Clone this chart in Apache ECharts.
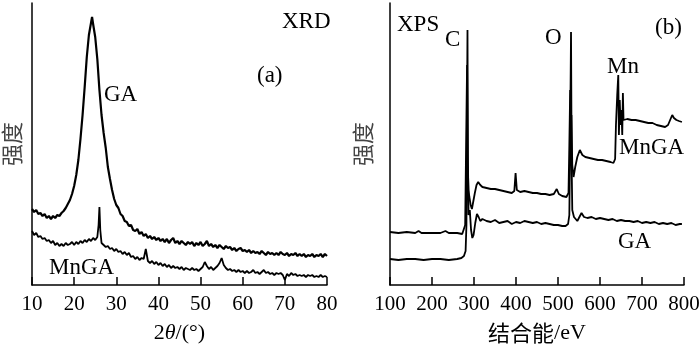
<!DOCTYPE html>
<html><head><meta charset="utf-8">
<script src="https://cdn.jsdelivr.net/npm/echarts@6/dist/echarts.min.js"></script>
<style>html,body{margin:0;padding:0;background:#fff}#c{width:700px;height:350px}</style>
</head><body><div id="c"></div>
<script>
// XRD tick labels / axis ranges
const xrdTicks = [10, 20, 30, 40, 50, 60, 70, 80];
const xpsTicks = [100, 200, 300, 400, 500, 600, 700, 800];

// XRD, GA: [2theta, intensity (arb.)]
const xrdGA = [
[10,76],[10.5,73],[11,75],[11.5,71],[12,72],[12.5,69],[13,71],[13.5,67],[14,69],[14.5,66],[15,69],[15.5,67],[16,70],[16.5,69],[17,72],[17.5,74],[18,77],[18.5,81],[19,85],[19.5,91],[20,99],[20.5,110],[21,125],[21.5,146],[22,170],[22.5,198],[23,228],[23.5,250],[24,262],[24.25,268],[24.5,261],[25,248],[25.5,226],[26,195],[26.5,170],[27,152],[27.5,137],[28,118],[28.5,106],[29,95],[29.5,86],[30,80],[30.5,77],[31,71],[31.5,69],[32,64],[32.5,63],[33,59],[33.5,60],[34,55],[34.5,54],[35,56],[35.5,51],[36,53],[36.5,49],[37,51],[37.5,47],[38,49],[38.5,46],[39,48],[39.5,45],[40,47],[40.5,44],[41,46],[41.5,43],[42,46],[42.5,42],[43,45],[43.5,47],[44,42],[44.5,44],[45,41],[45.5,44],[46,42],[46.5,40],[47,43],[47.5,41],[48,43],[48.5,39],[49,42],[49.5,40],[50,43],[50.5,39],[51,41],[51.5,44],[52,39],[52.5,41],[53,38],[53.5,40],[54,37],[54.5,40],[55,38],[55.5,36],[56,39],[56.5,37],[57,38],[57.5,35],[58,37],[58.5,34],[59,36],[59.5,37],[60,34],[60.5,35],[61,33],[61.5,35],[62,32],[62.5,34],[63,32],[63.5,33],[64,31],[64.5,34],[65,32],[65.5,30],[66,33],[66.5,31],[67,32],[67.5,30],[68,32],[68.5,30],[69,33],[69.5,31],[70,30],[70.5,32],[71,29],[71.5,31],[72,30],[72.5,32],[73,29],[73.5,31],[74,29],[74.5,31],[75,28],[75.5,30],[76,29],[76.5,31],[77,28],[77.5,30],[78,29],[78.5,31],[79,28],[79.5,31],[80,29]
];

// XRD, MnGA
const xrdMnGA = [
[10,54],[10.5,50],[11,52],[11.5,48],[12,49],[12.5,46],[13,47],[13.5,44],[14,45],[14.5,42],[15,44],[15.5,40],[16,42],[16.5,39],[17,41],[17.5,39],[18,42],[18.5,40],[19,41],[19.5,43],[20,40],[20.5,43],[21,41],[21.5,44],[22,42],[22.5,45],[23,43],[23.5,46],[24,44],[24.5,47],[25,45],[25.5,48],[25.8,60],[26,78],[26.2,55],[26.5,42],[27,40],[27.5,38],[28,39],[28.5,36],[29,37],[29.5,34],[30,36],[30.5,33],[31,34],[31.5,31],[32,33],[32.5,30],[33,32],[33.5,28],[34,29],[34.5,26],[35,28],[35.5,25],[36,27],[36.5,26],[37,36],[37.5,24],[38,22],[38.5,24],[39,21],[39.5,23],[40,20],[40.5,22],[41,19],[41.5,21],[42,18],[42.5,20],[43,17],[43.5,19],[44,17],[44.5,18],[45,16],[45.5,18],[46,15],[46.5,17],[47,16],[47.5,15],[48,17],[48.5,15],[49,16],[49.5,14],[50,16],[50.5,18],[51,23],[51.5,19],[52,16],[52.5,18],[53,15],[53.5,17],[54,19],[54.5,22],[55,27],[55.5,20],[56,17],[56.5,15],[57,16],[57.5,14],[58,15],[58.5,13],[59,15],[59.5,13],[60,14],[60.5,12],[61,14],[61.5,12],[62,13],[62.5,15],[63,12],[63.5,13],[64,11],[64.5,13],[65,15],[65.5,12],[66,13],[66.5,11],[67,12],[67.5,10],[68,12],[68.5,11],[69,12],[69.5,10],[70,5],[70.5,11],[71,9],[71.5,12],[72,10],[72.5,11],[73,9],[73.5,10],[74,9],[74.5,10],[75,8],[75.5,10],[76,9],[76.5,10],[77,8],[77.5,9],[78,8],[78.5,10],[79,8],[79.5,9],[80,8]
];

// XPS, GA: [binding energy eV, intensity (arb.)]
const xpsGA = [
[100,26],[120,25],[140,26],[160,26],[180,25],[200,26],[220,26],[240,25],[260,26],[270,27],[276,29],[280,34],[282,60],[283,150],[284.5,255],[285.5,130],[287,70],[290,75],[293,55],[296,47],[299,50],[303,62],[307,71],[311,68],[315,64],[320,66],[330,64],[340,63],[350,65],[360,62],[370,63],[380,64],[390,61],[400,63],[410,62],[420,64],[430,63],[440,62],[450,63],[460,61],[470,62],[480,61],[490,60],[500,60],[510,59],[518,59],[524,61],[527,70],[529,150],[531,253],[532.5,120],[534,75],[538,68],[542,66],[546,64],[550,66],[556,72],[562,68],[570,67],[580,68],[590,66],[600,67],[610,66],[620,65],[630,66],[640,64],[650,65],[660,64],[670,64],[680,63],[690,64],[700,62],[710,63],[720,62],[730,63],[740,61],[750,62],[760,61],[770,62],[780,60],[790,61],[795,61]
];

// XPS, MnGA
const xpsMnGA = [
[100,53],[120,52],[140,53],[160,52],[168,54],[175,52],[200,52],[220,52],[232,54],[240,52],[260,52],[272,51],[276,53],[279,60],[281.5,150],[283.5,220],[285,120],[287,95],[289,88],[292,80],[295,76],[298,78],[302,92],[306,100],[310,103],[315,100],[320,98],[330,97],[340,96],[350,96],[360,95],[370,94],[380,93],[390,92],[396,94],[399,112],[402,95],[410,93],[420,94],[430,93],[440,92],[450,92],[460,91],[470,91],[480,90],[490,91],[497,96],[502,91],[510,89],[520,88],[525,92],[527,140],[529,195],[530.5,150],[532,170],[534,120],[537,108],[541,118],[546,128],[552,135],[558,130],[565,128],[575,127],[585,126],[595,125],[605,125],[615,124],[625,123],[632,122],[636,126],[638,160],[641,190],[643.5,210],[645,150],[647,185],[649,160],[651,175],[653,150],[654.5,192],[656,165],[659,167],[665,166],[675,165],[685,165],[695,164],[705,163],[715,162],[725,162],[735,160],[745,159],[755,158],[762,160],[768,166],[772,170],[776,167],[782,165],[788,164],[795,163]
];

const serif = '"Liberation Serif", "DejaVu Serif", serif';
const cjk = '"Noto Sans CJK SC", sans-serif';

function xAxisCfg(idx, ticks, nameRich) {
  return {
    type: 'value', gridIndex: idx,
    min: ticks[0], max: ticks[ticks.length - 1], interval: ticks[1] - ticks[0],
    axisLine: { show: true, lineStyle: { color: '#000', width: 1.5 } },
    axisTick: { show: true, inside: true, length: 8, lineStyle: { color: '#000', width: 1.5 } },
    axisLabel: { color: '#000', fontFamily: serif, fontSize: 21, margin: 9 },
    splitLine: { show: false },
    name: nameRich.text, nameLocation: 'middle', nameGap: 37,
    nameTextStyle: { color: '#000', fontFamily: nameRich.font, fontSize: 22, rich: nameRich.rich }
  };
}
function yAxisCfg(idx, gap) {
  return {
    type: 'value', gridIndex: idx, min: 0, max: 282,
    axisLine: { show: true, lineStyle: { color: '#000', width: 1.5 } },
    axisTick: { show: false }, axisLabel: { show: false }, splitLine: { show: false },
    name: '强度', nameLocation: 'middle', nameGap: gap, nameRotate: 90,
    nameTextStyle: { color: '#444', fontFamily: cjk, fontSize: 22 }
  };
}
function txt(s, x, y, size) {
  return { type: 'text', x: x, y: y, style: { text: s, fill: '#000', font: (size || 23) + 'px ' + serif, textVerticalAlign: 'middle' } };
}
function line(data, xi, w) {
  return { type: 'line', xAxisIndex: xi, yAxisIndex: xi, data: data, showSymbol: false, symbol: 'none', silent: true,
    lineStyle: { color: '#000', width: w } };
}

const chart = echarts.init(document.getElementById('c'), null, { renderer: 'canvas' });
chart.setOption({
  animation: false,
  backgroundColor: '#fff',
  grid: [
    { left: 32, top: 3, width: 295, height: 282, containLabel: false, outerBoundsMode: 'none' },
    { left: 390, top: 3, width: 294, height: 282, containLabel: false, outerBoundsMode: 'none' }
  ],
  xAxis: [
    xAxisCfg(0, xrdTicks, { text: '{n|2}{i|θ}{n|/(°)}', font: serif, rich: {
      n: { fontFamily: serif, fontSize: 22, color: '#000' },
      i: { fontFamily: serif, fontSize: 22, fontStyle: 'italic', color: '#000' } } }),
    xAxisCfg(1, xpsTicks, { text: '{c|结合能}{n|/eV}', font: serif, rich: {
      c: { fontFamily: cjk, fontSize: 22, color: '#000' },
      n: { fontFamily: serif, fontSize: 22, color: '#000' } } })
  ],
  yAxis: [yAxisCfg(0, 9), yAxisCfg(1, 16)],
  series: [line(xrdGA, 0, 2.2), line(xrdMnGA, 0, 1.8), line(xpsGA, 1, 1.8), line(xpsMnGA, 1, 1.8)],
  graphic: [
    txt('XRD', 282, 22), txt('(a)', 257, 76), txt('GA', 104, 95), txt('MnGA', 49, 268),
    txt('XPS', 397, 25), txt('C', 445, 40), txt('O', 545, 38), txt('(b)', 655, 28),
    txt('Mn', 607, 67), txt('MnGA', 619, 148), txt('GA', 618, 242)
  ]
});
</script></body></html>
